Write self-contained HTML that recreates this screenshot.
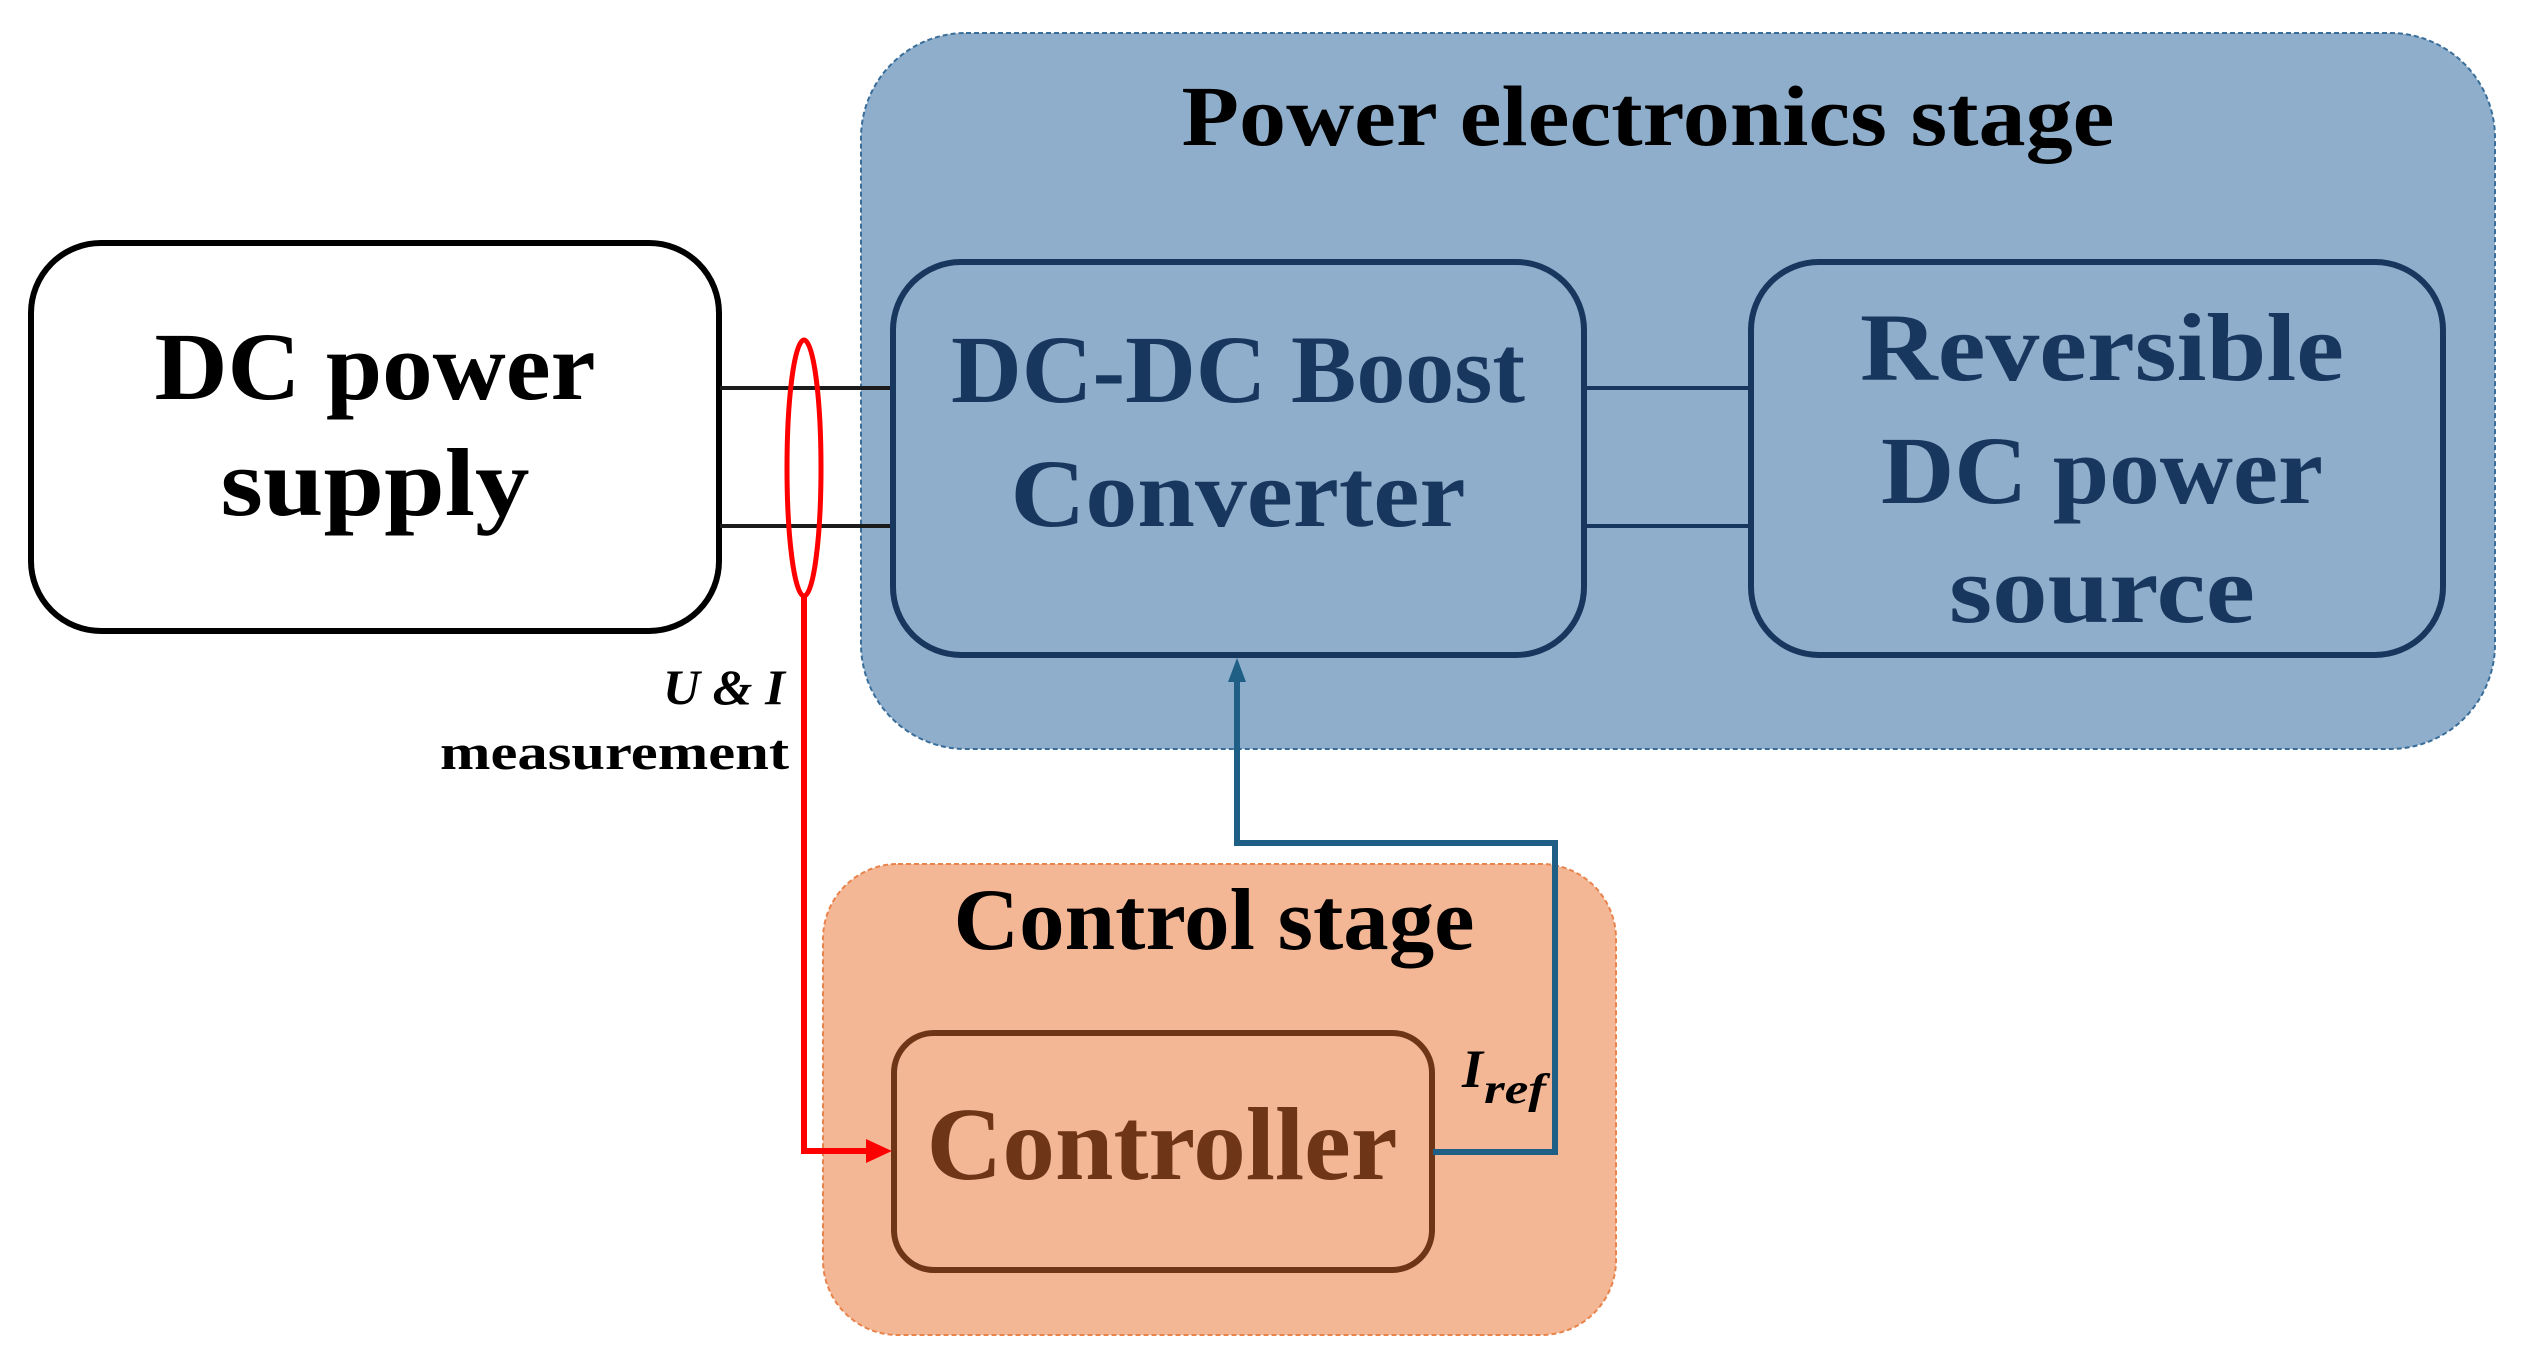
<!DOCTYPE html>
<html><head><meta charset="utf-8"><style>html,body{margin:0;padding:0;background:#fff}svg{display:block}</style></head>
<body>
<svg width="2521" height="1370" viewBox="0 0 2521 1370" xmlns="http://www.w3.org/2000/svg" font-family="'Liberation Serif', serif" font-weight="bold">
<!-- Power electronics stage -->
<rect x="861" y="33" width="1634" height="716" rx="105" fill="#8faecb" stroke="#3a6e9a" stroke-width="2" stroke-dasharray="5,3"/>
<text x="1648" y="145" font-size="86" text-anchor="middle" textLength="933" lengthAdjust="spacingAndGlyphs" fill="#000">Power electronics stage</text>
<!-- Control stage -->
<rect x="823" y="864" width="793" height="471" rx="75" fill="#f4b796" stroke="#e8834c" stroke-width="2" stroke-dasharray="5,3"/>
<text x="1214" y="949" font-size="88" text-anchor="middle" textLength="521" lengthAdjust="spacingAndGlyphs" fill="#000">Control stage</text>
<!-- DC supply -->
<rect x="31" y="243" width="688" height="388" rx="70" fill="#fff" stroke="#000" stroke-width="6"/>
<text x="375" y="399" font-size="96" text-anchor="middle" textLength="441" lengthAdjust="spacingAndGlyphs">DC power</text>
<text x="375" y="515" font-size="96" text-anchor="middle" textLength="309" lengthAdjust="spacingAndGlyphs">supply</text>
<!-- wires -->
<line x1="720" y1="388" x2="893" y2="388" stroke="#1b1b1b" stroke-width="4"/>
<line x1="720" y1="526" x2="893" y2="526" stroke="#1b1b1b" stroke-width="4"/>
<line x1="1584" y1="388" x2="1749" y2="388" stroke="#17375e" stroke-width="4"/>
<line x1="1584" y1="526" x2="1749" y2="526" stroke="#17375e" stroke-width="4"/>
<!-- DC-DC -->
<rect x="893" y="262" width="691" height="393" rx="68" fill="#8faecb" stroke="#17375e" stroke-width="6"/>
<text x="1238" y="402" font-size="96" text-anchor="middle" textLength="574" lengthAdjust="spacingAndGlyphs" fill="#17375e">DC-DC Boost</text>
<text x="1238" y="526" font-size="96" text-anchor="middle" textLength="455" lengthAdjust="spacingAndGlyphs" fill="#17375e">Converter</text>
<!-- Reversible -->
<rect x="1751" y="262" width="692" height="393" rx="68" fill="#8faecb" stroke="#17375e" stroke-width="6"/>
<text x="2102" y="380" font-size="96" text-anchor="middle" textLength="484" lengthAdjust="spacingAndGlyphs" fill="#17375e">Reversible</text>
<text x="2102" y="503" font-size="96" text-anchor="middle" textLength="442" lengthAdjust="spacingAndGlyphs" fill="#17375e">DC power</text>
<text x="2102" y="622" font-size="96" text-anchor="middle" textLength="306" lengthAdjust="spacingAndGlyphs" fill="#17375e">source</text>
<!-- Controller -->
<rect x="894" y="1033" width="538" height="237" rx="40" fill="#f4b796" stroke="#6e3517" stroke-width="6"/>
<text x="1162" y="1179" font-size="104" text-anchor="middle" textLength="471" lengthAdjust="spacingAndGlyphs" fill="#6e3517">Controller</text>
<!-- red measurement -->
<ellipse cx="804" cy="468" rx="17" ry="128" fill="none" stroke="#ff0000" stroke-width="5"/>
<polyline points="804,596 804,1151 870,1151" fill="none" stroke="#ff0000" stroke-width="6"/>
<path d="M866,1139 L892,1151 L866,1163 z" fill="#ff0000"/>
<text x="785" y="704" font-size="50" font-style="italic" text-anchor="end" textLength="122" lengthAdjust="spacingAndGlyphs">U &amp; I</text>
<text x="789" y="769" font-size="50" text-anchor="end" textLength="349" lengthAdjust="spacingAndGlyphs">measurement</text>
<!-- blue Iref -->
<polyline points="1433,1152 1555,1152 1555,843 1237,843 1237,680" fill="none" stroke="#1f5f86" stroke-width="6"/>
<path d="M1228,682 L1237,658 L1246,682 z" fill="#1f5f86"/>
<text x="1462" y="1087" font-size="54" font-style="italic">I</text>
<text x="1484" y="1103" font-size="42" font-style="italic" textLength="62" lengthAdjust="spacingAndGlyphs">ref</text>
</svg>
</body></html>
